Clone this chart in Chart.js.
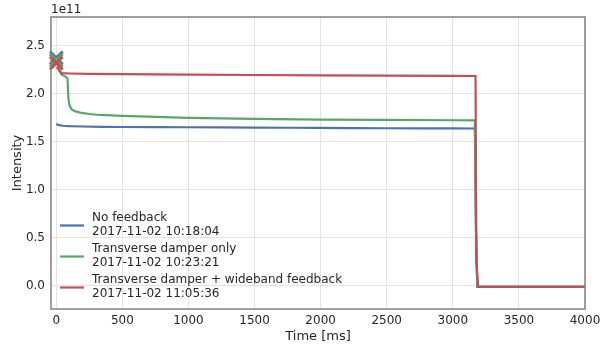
<!DOCTYPE html>
<html>
<head>
<meta charset="utf-8">
<script src="https://cdn.jsdelivr.net/npm/chart.js@4/dist/chart.umd.min.js"></script>
<style>
  html, body { margin: 0; padding: 0; background: #fff; }
  #wrap { width: 609px; height: 347px; position: relative; }
</style>
</head>
<body>
<div id="wrap"><canvas id="c1"></canvas></div>
<script>
// intensity values are in units of 1e11
var tBlue = [0, 20, 50, 100, 200, 350, 500, 750, 1000, 1250, 1500, 1750, 2000, 2250, 2500, 2750, 3000, 3167, 3175, 3185, 4000];
var yBlue = [1.685, 1.675, 1.668, 1.664, 1.660, 1.657, 1.655, 1.653, 1.652, 1.650, 1.648, 1.647, 1.645, 1.644, 1.642, 1.641, 1.640, 1.639, 0.6, -0.01, -0.01];

var tGreen = [5, 40, 70, 85, 92, 100, 115, 140, 180, 250, 330, 500, 750, 1000, 1500, 2000, 2500, 3000, 3167, 3175, 3185, 4000];
var yGreen = [2.28, 2.20, 2.18, 2.16, 1.95, 1.88, 1.84, 1.82, 1.805, 1.79, 1.78, 1.77, 1.76, 1.75, 1.74, 1.732, 1.728, 1.725, 1.724, 0.6, -0.01, -0.01];

var tRed = [5, 40, 100, 250, 500, 750, 1000, 1500, 2000, 2500, 3000, 3172, 3178, 3192, 4000];
var yRed = [2.28, 2.215, 2.212, 2.208, 2.205, 2.202, 2.2, 2.196, 2.192, 2.19, 2.187, 2.186, 0.25, -0.01, -0.01];

// injected intensity markers
var tInject = [0, 0, 0];
var yInject = [2.375, 2.35, 2.32];

var seriesNames = ['No feedback', 'Transverse damper only', 'Transverse damper + wideband feedback'];
var seriesDates = ['2017-11-02 10:18:04', '2017-11-02 10:23:21', '2017-11-02 11:05:36'];
var colors = ['#4c72b0', '#55a868', '#c44e52'];

var xTicks = [0, 500, 1000, 1500, 2000, 2500, 3000, 3500, 4000];
var yTicks = [0, 0.5, 1.0, 1.5, 2.0, 2.5];

function pts(ts, ys) {
    return ts.map((t, i) => ({x: t, y: ys[i]}));
}

function lineSet(i, ts, ys, order) {
    return {
        type: 'line',
        label: seriesNames[i],
        data: pts(ts, ys),
        borderColor: colors[i],
        backgroundColor: colors[i],
        borderWidth: 2.2,
        pointRadius: 0,
        tension: 0,
        order: order
    };
}

function markSet(i, order) {
    return {
        type: 'scatter',
        label: 'inj' + i,
        data: [{x: tInject[i], y: yInject[i]}],
        pointStyle: 'crossRot',
        pointRadius: 9,
        borderWidth: 3,
        borderColor: colors[i],
        backgroundColor: colors[i],
        clip: false,
        order: order
    };
}

// frame around plot, "1e11" offset text and the two-line legend
var decor = {
    id: 'decor',
    afterDatasetsDraw(chart) {
        var ctx = chart.ctx, a = chart.chartArea;
        ctx.save();
        ctx.strokeStyle = '#808080';
        ctx.lineWidth = 1.5;
        ctx.strokeRect(a.left, a.top, a.right - a.left, a.bottom - a.top);

        ctx.fillStyle = '#262626';
        ctx.font = '12px "DejaVu Sans"';
        ctx.textBaseline = 'alphabetic';
        ctx.textAlign = 'left';
        ctx.fillText('1e11', a.left, a.top - 4);

        var y0 = 225.5;
        for (var i = 0; i < 3; i++) {
            var y = y0 + i * 31;
            ctx.strokeStyle = colors[i];
            ctx.lineWidth = 2.2;
            ctx.beginPath();
            ctx.moveTo(60, y);
            ctx.lineTo(84, y);
            ctx.stroke();
            ctx.textBaseline = 'middle';
            ctx.fillText(seriesNames[i], 92, y - 8);
            ctx.fillText(seriesDates[i], 92, y + 6.5);
        }
        ctx.restore();
    }
};

Chart.defaults.font.family = '"DejaVu Sans"';
Chart.defaults.color = '#262626';

var ctx = document.getElementById('c1').getContext('2d');
var chart = new Chart(ctx, {
    type: 'line',
    data: {
        datasets: [
            lineSet(0, tBlue, yBlue, 3),
            lineSet(1, tGreen, yGreen, 2),
            lineSet(2, tRed, yRed, 1),
            markSet(0, -1),
            markSet(1, -2),
            markSet(2, -3)
        ]
    },
    options: {
        responsive: true,
        maintainAspectRatio: false,
        animation: false,
        layout: { padding: { left: 10, top: 17, right: 24, bottom: 0 } },
        plugins: {
            legend: { display: false },
            tooltip: { enabled: false }
        },
        scales: {
            x: {
                type: 'linear',
                min: -40,
                max: 4000,
                afterFit: (s) => { s.height = 38; },
                afterBuildTicks: (s) => { s.ticks = xTicks.map(v => ({value: v})); },
                grid: { color: '#e3e3e3', lineWidth: 1, drawTicks: false },
                border: { display: false },
                ticks: { font: { size: 12 }, padding: 5, maxRotation: 0, callback: (v) => String(v) },
                title: { display: true, text: 'Time [ms]', font: { size: 13 }, padding: { top: 2, bottom: 3 } }
            },
            y: {
                type: 'linear',
                min: -0.24,
                max: 2.8,
                afterFit: (s) => { s.width = 41; },
                afterBuildTicks: (s) => { s.ticks = yTicks.map(v => ({value: v})); },
                grid: { color: '#e3e3e3', lineWidth: 1, drawTicks: false },
                border: { display: false },
                ticks: { font: { size: 12 }, padding: 6, callback: (v) => v.toFixed(1) },
                title: { display: true, text: 'Intensity', font: { size: 13 }, padding: 0 }
            }
        }
    },
    plugins: [decor]
});
</script>
</body>
</html>
